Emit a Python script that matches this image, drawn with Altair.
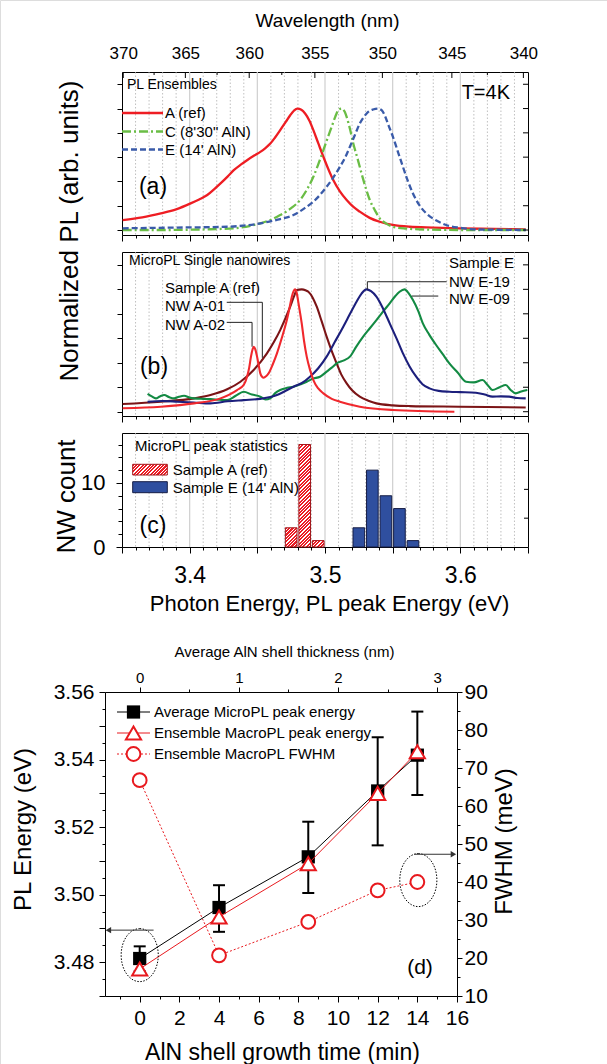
import altair as alt
import pandas as pd

FONT = "Liberation Sans"

# ---------------- panel (a): ensemble PL spectra ----------------
ensA_energy = [3.3505, 3.3650, 3.3787, 3.3900, 3.4007, 3.4070, 3.4130, 3.4180, 3.4228, 3.4280, 3.4326, 3.4380,
               3.4424, 3.4480, 3.4522, 3.4560, 3.4596, 3.4630, 3.4669, 3.4710, 3.4743, 3.4770, 3.4796, 3.4825,
               3.4853, 3.4885, 3.4914, 3.4950, 3.4988, 3.5025, 3.5061, 3.5110, 3.5160, 3.5210, 3.5257, 3.5330,
               3.5404, 3.5500, 3.5625, 3.5800, 3.5993, 3.6250, 3.6483]
ensA_pl = [0.082, 0.104, 0.137, 0.170, 0.219, 0.252, 0.288, 0.335, 0.384, 0.440, 0.493, 0.540,
           0.575, 0.615, 0.643, 0.675, 0.712, 0.760, 0.822, 0.890, 0.945, 0.982, 1.000, 0.990,
           0.959, 0.900, 0.822, 0.715, 0.603, 0.500, 0.411, 0.318, 0.247, 0.190, 0.151, 0.100,
           0.068, 0.042, 0.027, 0.020, 0.014, 0.009, 0.005]
ensC_energy = [3.3505, 3.3800, 3.4100, 3.4326, 3.4450, 3.4522, 3.4600, 3.4669, 3.4750, 3.4816, 3.4870, 3.4914,
               3.4950, 3.4988, 3.5020, 3.5049, 3.5075, 3.5098, 3.5123, 3.5145, 3.5160, 3.5185, 3.5209, 3.5240,
               3.5270, 3.5300, 3.5331, 3.5370, 3.5404, 3.5450, 3.5502, 3.5600, 3.5748, 3.6000, 3.6483]
ensC_pl = [0.000, 0.000, 0.005, 0.014, 0.035, 0.055, 0.085, 0.123, 0.180, 0.247, 0.340, 0.438,
           0.540, 0.657, 0.760, 0.849, 0.930, 0.986, 1.000, 0.975, 0.931, 0.830, 0.712, 0.590,
           0.466, 0.350, 0.247, 0.160, 0.096, 0.055, 0.027, 0.012, 0.004, 0.000, 0.000]
ensE_energy = [3.3505, 3.3900, 3.4277, 3.4522, 3.4650, 3.4767, 3.4850, 3.4914, 3.5012, 3.5060, 3.5110, 3.5150,
               3.5184, 3.5220, 3.5257, 3.5290, 3.5319, 3.5355, 3.5392, 3.5420, 3.5441, 3.5470, 3.5502, 3.5540,
               3.5576, 3.5610, 3.5650, 3.5700, 3.5748, 3.5820, 3.5895, 3.6000, 3.6115, 3.6300, 3.6483]
ensE_pl = [0.014, 0.020, 0.027, 0.055, 0.085, 0.123, 0.180, 0.233, 0.356, 0.430, 0.520, 0.600,
           0.685, 0.780, 0.877, 0.935, 0.972, 0.992, 1.000, 0.985, 0.945, 0.860, 0.767, 0.640,
           0.520, 0.410, 0.301, 0.200, 0.137, 0.080, 0.041, 0.018, 0.005, 0.002, 0.000]
ens_names = ["A (ref)", "C (8'30\" AlN)", "E (14' AlN)"]
ens_colors = ["#ee1d23", "#6abd45", "#3a5ba9"]
ens_dashes = [None, [9, 3, 2, 3], [6, 3]]

# ---------------- panel (b): single nanowire micro-PL ----------------
nwA01_energy = [3.3505, 3.3787, 3.4032, 3.4154, 3.4277, 3.4375, 3.4473, 3.4571, 3.4620, 3.4669, 3.4710, 3.4743,
                3.4770, 3.4792, 3.4828, 3.4860, 3.4877, 3.4910, 3.4939, 3.4975, 3.5012, 3.5050, 3.5086, 3.5120,
                3.5160, 3.5200, 3.5257, 3.5320, 3.5380, 3.5500, 3.5625, 3.5993, 3.6483]
nwA01_pl = [0.063, 0.082, 0.109, 0.136, 0.183, 0.245, 0.341, 0.477, 0.565, 0.667, 0.770, 0.858,
            0.940, 0.994, 1.000, 0.990, 0.980, 0.930, 0.858, 0.740, 0.613, 0.495, 0.395, 0.305,
            0.232, 0.175, 0.123, 0.090, 0.068, 0.052, 0.046, 0.041, 0.035]
nwA02_energy = [3.3505, 3.3787, 3.4032, 3.4228, 3.4350, 3.4400, 3.4424, 3.4440, 3.4453, 3.4465, 3.4473, 3.4485,
                3.4498, 3.4510, 3.4522, 3.4535, 3.4547, 3.4565, 3.4583, 3.4615, 3.4645, 3.4680, 3.4718, 3.4740,
                3.4755, 3.4768, 3.4779, 3.4790, 3.4805, 3.4828, 3.4845, 3.4865, 3.4890, 3.4914, 3.4950, 3.4988,
                3.5050, 3.5110, 3.5257, 3.5502, 3.5956]
nwA02_pl = [0.028, 0.041, 0.068, 0.109, 0.177, 0.220, 0.286, 0.360, 0.450, 0.510, 0.531, 0.510,
            0.450, 0.380, 0.313, 0.285, 0.278, 0.290, 0.313, 0.390, 0.477, 0.600, 0.749, 0.860,
            0.940, 0.985, 1.000, 0.975, 0.880, 0.722, 0.580, 0.450, 0.340, 0.259, 0.190, 0.150,
            0.105, 0.082, 0.041, 0.014, 0.000]
nwE19_energy = [3.3689, 3.3800, 3.3910, 3.4030, 3.4154, 3.4280, 3.4399, 3.4520, 3.4645, 3.4700, 3.4767, 3.4830,
                3.4889, 3.4950, 3.5012, 3.5070, 3.5135, 3.5185, 3.5233, 3.5270, 3.5306, 3.5340, 3.5380, 3.5430,
                3.5478, 3.5530, 3.5576, 3.5625, 3.5674, 3.5720, 3.5772, 3.5840, 3.5919, 3.6000, 3.6115, 3.6180,
                3.6238, 3.6300, 3.6360, 3.6420, 3.6483]
nwE19_pl = [0.082, 0.088, 0.082, 0.075, 0.068, 0.085, 0.095, 0.105, 0.136, 0.165, 0.204, 0.235,
            0.286, 0.355, 0.450, 0.565, 0.695, 0.800, 0.899, 0.965, 1.000, 0.985, 0.940, 0.840,
            0.722, 0.595, 0.477, 0.370, 0.286, 0.225, 0.191, 0.170, 0.163, 0.160, 0.155, 0.140,
            0.123, 0.125, 0.123, 0.112, 0.109]
nwE09_energy = [3.3689, 3.3720, 3.3750, 3.3780, 3.3812, 3.3850, 3.3885, 3.3920, 3.3959, 3.4000, 3.4032, 3.4100,
                3.4154, 3.4220, 3.4277, 3.4340, 3.4399, 3.4460, 3.4522, 3.4560, 3.4596, 3.4630, 3.4669, 3.4720,
                3.4767, 3.4820, 3.4865, 3.4910, 3.4963, 3.5012, 3.5050, 3.5086, 3.5140, 3.5184, 3.5230, 3.5282,
                3.5330, 3.5380, 3.5430, 3.5478, 3.5520, 3.5551, 3.5588, 3.5620, 3.5650, 3.5690, 3.5723, 3.5770,
                3.5821, 3.5870, 3.5919, 3.5980, 3.6042, 3.6100, 3.6164, 3.6200, 3.6238, 3.6290, 3.6336, 3.6370,
                3.6409, 3.6450, 3.6495]
nwE09_pl = [0.145, 0.125, 0.109, 0.125, 0.136, 0.118, 0.109, 0.122, 0.130, 0.115, 0.109, 0.105,
            0.103, 0.098, 0.095, 0.130, 0.163, 0.140, 0.123, 0.100, 0.109, 0.150, 0.177, 0.195,
            0.204, 0.225, 0.245, 0.270, 0.286, 0.327, 0.360, 0.395, 0.420, 0.450, 0.530, 0.613,
            0.680, 0.749, 0.820, 0.885, 0.945, 0.980, 1.000, 0.965, 0.912, 0.820, 0.722, 0.630,
            0.545, 0.470, 0.395, 0.320, 0.245, 0.240, 0.259, 0.220, 0.177, 0.200, 0.218, 0.180,
            0.150, 0.165, 0.177]
nw_colors = {"A01": "#7b1416", "A02": "#f0282d", "E19": "#1c1f7c", "E09": "#138a43"}
lead_A01_energy = [3.4274, 3.4537, 3.4537]
lead_A01_pl = [0.894, 0.894, 0.440]
lead_A02_energy = [3.4274, 3.4461, 3.4461]
lead_A02_pl = [0.730, 0.730, 0.531]
lead_E19_energy = [3.5899, 3.5313, 3.5313]
lead_E19_pl = [1.062, 1.062, 1.000]
lead_E09_energy = [3.5837, 3.5641]
lead_E09_pl = [0.945, 0.945]

# ---------------- panel (c): peak statistics ----------------
histA_center = [3.475, 3.485, 3.495]
histA_count = [3, 16, 1]
histE_center = [3.525, 3.535, 3.545, 3.555, 3.565]
histE_count = [3, 12, 8, 6, 1]
bin_halfwidth = 0.0043

# ---------------- panel (d) ----------------
growth_time = [0, 4, 8.5, 12, 14]
micro_peak = [3.4811, 3.4962, 3.5112, 3.5307, 3.5413]
micro_low = [3.4773, 3.4890, 3.5005, 3.5146, 3.5295]
micro_high = [3.4847, 3.5028, 3.5216, 3.5466, 3.5542]
macro_peak = [3.4780, 3.4934, 3.5092, 3.5300, 3.5423]
macro_fwhm = [66.8, 20.7, 29.5, 37.8, 40.0]
minutes_per_nm = 5

# ---------------- axis tick lists ----------------
energy_major_ticks = [3.35, 3.40, 3.45, 3.50, 3.55, 3.60, 3.65]
energy_minor_ticks = [3.36, 3.37, 3.38, 3.39, 3.41, 3.42, 3.43, 3.44, 3.46, 3.47, 3.48, 3.49, 3.51, 3.52,
                      3.53, 3.54, 3.56, 3.57, 3.58, 3.59, 3.61, 3.62, 3.63, 3.64]
energy_grid_major = [3.40, 3.45, 3.50, 3.55, 3.60]
HC = 1239.84
wavelength_major = [370, 365, 360, 355, 350, 345, 340]
wavelength_minor = [367.5, 362.5, 357.5, 352.5, 347.5, 342.5]
norm_ticks = [0, 0.2, 0.4, 0.6, 0.8, 1.0, 1.2]
count_major_ticks = [0, 10]
count_minor_ticks = [2, 4, 6, 8, 12, 14, 16]
count_right_ticks = [4.5, 9, 13.5]
time_major_ticks = [0, 2, 4, 6, 8, 10, 12, 14, 16]
time_minor_ticks = [-1, 1, 3, 5, 7, 9, 11, 13, 15]
thickness_major_nm = [0, 1, 2, 3]
thickness_minor_nm = [0.5, 1.5, 2.5]
pl_energy_major = [3.47, 3.48, 3.49, 3.50, 3.51, 3.52, 3.53, 3.54, 3.55, 3.56]
pl_energy_minor = [3.475, 3.485, 3.495, 3.505, 3.515, 3.525, 3.535, 3.545, 3.555]
fwhm_major = [10, 20, 30, 40, 50, 60, 70, 80, 90]
fwhm_minor = [15, 25, 35, 45, 55, 65, 75, 85]

# ---------------- page layout (pixels) ----------------
W, H = 607, 1064
EX0, EX1 = 122, 528                 # energy panels left/right
A_Y = (235, 72)
B_Y = (416, 252)
C_Y = (547, 433)
DX0, DX1, DY0, DY1 = 105, 457, 996, 692
C_PX_PER_COUNT = (C_Y[0] - C_Y[1]) / 17.8
PX_PER_EV = (EX1 - EX0) / 0.30

ONE = pd.DataFrame({"k": [0]})
AXB = dict(tickColor="black", labelColor="black", titleColor="black", labelFont=FONT, titleFont=FONT,
           titleFontWeight="normal", grid=False, labelFlush=False, labelOverlap=False, tickWidth=1,
           domainColor="black", domainWidth=1)


def ax(**kw):
    d = dict(AXB)
    d.setdefault("title", None)
    d.update(kw)
    return alt.Axis(**d)


def sc(domain, rng):
    return alt.Scale(domain=domain, range=list(rng), nice=False, zero=False)


def xE(field="E", axis=None):
    return alt.X(f"{field}:Q", scale=sc([3.35, 3.65], (EX0, EX1)), axis=axis)


def yPanel(field, yr, domain, axis=None):
    return alt.Y(f"{field}:Q", scale=sc(domain, yr), axis=axis)


def txt(s, x, y, size=15, align="left", color="black", angle=None):
    kw = dict(text=s, align=align, baseline="middle", fontSize=size, font=FONT, color=color)
    if angle is not None:
        kw["angle"] = angle
    return alt.Chart(ONE).mark_text(**kw).encode(x=alt.value(x), y=alt.value(y))


def hseg(x1, x2, y, color="black", width=1.0, dash=None):
    kw = dict(color=color, strokeWidth=width)
    if dash:
        kw["strokeDash"] = dash
    return alt.Chart(ONE).mark_rule(**kw).encode(x=alt.value(x1), x2=alt.value(x2), y=alt.value(y))


def hatch(w, h, period=3.4, frac=0.62, color="#ec1c24"):
    L = w + h
    k = L / (w * w + h * h)
    stops = []
    c = 0.0
    while c < L - 1e-9:
        a = round(c / L, 5)
        b = round(min((c + period * frac) / L, 1.0), 5)
        e = round(min((c + period) / L, 1.0), 5)
        stops += [alt.GradientStop(color=color, offset=a), alt.GradientStop(color=color, offset=b),
                  alt.GradientStop(color="white", offset=b), alt.GradientStop(color="white", offset=e)]
        c += period
    return alt.LinearGradient(gradient="linear", stops=stops, x1=0, y1=0, x2=round(w * k, 5), y2=round(h * k, 5))


def energy_grid(yr, bottom_offset, labels=False):
    minor = alt.Chart(pd.DataFrame({"E": energy_minor_ticks})).mark_rule(
        color="#b0b0b0", strokeWidth=0.8, strokeDash=[1.5, 2]).encode(
        x=xE(axis=ax(orient="bottom", offset=bottom_offset, values=energy_minor_ticks, tickSize=3,
                     labels=False, domain=False)),
        y=alt.value(yr[1]), y2=alt.value(yr[0]))
    if labels:
        extra = dict(labelExpr="abs(datum.value*10 - round(datum.value*10)) < 0.001 ? format(datum.value, '.1f') : ''",
                     labelFontSize=23, labelBaseline="middle", labelPadding=22,
                     title="Photon Energy, PL peak Energy (eV)", titleFontSize=22, titleX=329, titleY=56,
                     titleBaseline="middle", titleAlign="center")
    else:
        extra = dict(labels=False)
    major = alt.Chart(pd.DataFrame({"E": energy_grid_major})).mark_rule(
        color="#cfcfcf", strokeWidth=1.2).encode(
        x=xE(axis=ax(orient="bottom", offset=bottom_offset, values=energy_major_ticks, tickSize=6,
                     domain=True, **extra)),
        y=alt.value(yr[1]), y2=alt.value(yr[0]))
    return [minor, major]


def right_ticks(values, yr, domain, length=5):
    return alt.Chart(pd.DataFrame({"v": values})).mark_rule(color="black", strokeWidth=1).encode(
        y=yPanel("v", yr, domain, ax(orient="right", offset=-(W - EX1), ticks=False, labels=False, domain=True)),
        x=alt.value(EX1), x2=alt.value(EX1 - length))


layers = []

# ======================= panel (a) =======================
A_DOM = [-0.041, 1.301]
layers += energy_grid(A_Y, -(H - A_Y[0]))
ens_series = [(ensA_energy, ensA_pl), (ensC_energy, ensC_pl), (ensE_energy, ensE_pl)]
for i, (en, pl) in enumerate(ens_series):
    kw = dict(color=ens_colors[i], strokeWidth=2.3, interpolate="monotone")
    if ens_dashes[i]:
        kw["strokeDash"] = ens_dashes[i]
    yax = ax(orient="left", offset=-EX0, values=norm_ticks, labels=False, tickSize=5, domain=True) if i == 0 else None
    layers.append(alt.Chart(pd.DataFrame({"E": en, "v": pl})).mark_line(**kw).encode(
        x=xE(), y=yPanel("v", A_Y, A_DOM, yax)))
layers.append(alt.Chart(pd.DataFrame({"wl": wavelength_major})).transform_calculate(
    E=f"{HC}/datum.wl").mark_rule(color="black").encode(
    x=xE(axis=ax(orient="top", offset=-A_Y[1], values=[HC / w for w in wavelength_major], ticks=False, tickSize=0,
                 domain=True, labelExpr=f"format({HC}/datum.value, '.0f')", labelFontSize=17,
                 labelBaseline="middle", labelPadding=19, title="Wavelength (nm)", titleFontSize=19,
                 titleX=327, titleY=-52, titleBaseline="middle", titleAlign="center")),
    y=alt.value(A_Y[1]), y2=alt.value(A_Y[1] + 6)))
layers.append(alt.Chart(pd.DataFrame({"wl": wavelength_minor})).transform_calculate(
    E=f"{HC}/datum.wl").mark_rule(color="black").encode(
    x=xE(), y=alt.value(A_Y[1]), y2=alt.value(A_Y[1] + 3)))
layers.append(right_ticks(norm_ticks, A_Y, A_DOM))
layers += [
    txt("Normalized PL (arb. units)", 70, 231, 26, align="center", angle=270),
    txt("PL Ensembles", 127, 85, 14),
    hseg(EX0, 163, 113, ens_colors[0], 2.3), hseg(EX0, 163, 131.5, ens_colors[1], 2.3, [9, 3, 2, 3]),
    hseg(EX0, 163, 149.5, ens_colors[2], 2.3, [6, 3]),
    txt(ens_names[0], 165, 113, 15), txt(ens_names[1], 165, 131.5, 15), txt(ens_names[2], 165, 149.5, 15),
    txt("T=4K", 510, 93, 20, align="right"), txt("(a)", 153, 187, 23, align="center"),
]

# ======================= panel (b) =======================
B_DOM = [-0.035, 1.305]
layers += energy_grid(B_Y, -(H - B_Y[0]))
nw_series = [("A01", nwA01_energy, nwA01_pl), ("E09", nwE09_energy, nwE09_pl),
             ("E19", nwE19_energy, nwE19_pl), ("A02", nwA02_energy, nwA02_pl)]
for i, (name, en, pl) in enumerate(nw_series):
    yax = ax(orient="left", offset=-EX0, values=norm_ticks, labels=False, tickSize=5, domain=True) if i == 0 else None
    layers.append(alt.Chart(pd.DataFrame({"E": en, "v": pl})).mark_line(
        color=nw_colors[name], strokeWidth=2.1, interpolate="monotone").encode(
        x=xE(), y=yPanel("v", B_Y, B_DOM, yax)))
dfLead = pd.concat([
    pd.DataFrame({"E": lead_A01_energy, "v": lead_A01_pl, "g": "A01", "i": range(len(lead_A01_pl))}),
    pd.DataFrame({"E": lead_A02_energy, "v": lead_A02_pl, "g": "A02", "i": range(len(lead_A02_pl))}),
    pd.DataFrame({"E": lead_E19_energy, "v": lead_E19_pl, "g": "E19", "i": range(len(lead_E19_pl))}),
    pd.DataFrame({"E": lead_E09_energy, "v": lead_E09_pl, "g": "E09", "i": range(len(lead_E09_pl))}),
])
layers.append(alt.Chart(dfLead).mark_line(color="#222222", strokeWidth=1).encode(
    x=xE(axis=ax(orient="top", offset=-B_Y[1], ticks=False, labels=False, domain=True, values=[3.5])),
    y=yPanel("v", B_Y, B_DOM), detail="g:N", order="i:Q"))
layers.append(right_ticks(norm_ticks, B_Y, B_DOM))
layers += [
    txt("MicroPL Single nanowires", 129, 261, 14),
    txt("Sample A (ref)", 165, 288, 15), txt("NW A-01", 165, 306, 15), txt("NW A-02", 165, 324.5, 15),
    txt("Sample E", 449, 263, 15), txt("NW E-19", 449, 281.5, 15), txt("NW E-09", 449, 298.5, 15),
    txt("(b)", 154, 367, 23, align="center"),
]

# ======================= panel (c) =======================
C_DOM = [0, 17.8]
layers += energy_grid(C_Y, -(H - C_Y[0]), labels=True)
bar_w_px = 2 * bin_halfwidth * PX_PER_EV
layers.append(alt.Chart(pd.DataFrame({"c": histE_center, "n": histE_count})).transform_calculate(
    x0=f"datum.c - {bin_halfwidth}", x1=f"datum.c + {bin_halfwidth}", z="0").mark_rect(
    fill="#2f4f9f", stroke="#151d45", strokeWidth=1).encode(
    x=xE("x0"), x2="x1:Q",
    y=yPanel("n", C_Y, C_DOM, ax(orient="left", offset=-EX0, values=count_major_ticks, tickSize=6, domain=True,
                                 labelFontSize=22, labelPadding=11,
                                 title="NW count", titleFontSize=26, titleAngle=270, titleX=66 - EX0, titleY=496,
                                 titleBaseline="middle", titleAlign="center")),
    y2="z:Q"))
for j, (cen, cnt) in enumerate(zip(histA_center, histA_count)):
    xax = ax(orient="top", offset=-C_Y[1], ticks=False, labels=False, domain=True, values=[3.5]) if j == 0 else None
    yax = ax(orient="left", offset=-EX0, values=count_minor_ticks, tickSize=4, labels=False,
             domain=False) if j == 0 else None
    layers.append(alt.Chart(pd.DataFrame({"c": [cen], "n": [cnt]})).transform_calculate(
        x0=f"datum.c - {bin_halfwidth}", x1=f"datum.c + {bin_halfwidth}", z="0").mark_rect(
        fill=hatch(bar_w_px, cnt * C_PX_PER_COUNT), stroke="#a3161b", strokeWidth=1).encode(
        x=xE("x0", xax), x2="x1:Q", y=yPanel("n", C_Y, C_DOM, yax), y2="z:Q"))
layers.append(right_ticks(count_right_ticks, C_Y, C_DOM, 4))
layers += [
    txt("MicroPL peak statistics", 135, 446, 15),
    alt.Chart(ONE).mark_rect(fill=hatch(34.6, 10.7), stroke="#a3161b", strokeWidth=1).encode(
        x=alt.value(132.7), x2=alt.value(167.3), y=alt.value(464.3), y2=alt.value(475)),
    alt.Chart(ONE).mark_rect(fill="#2f4f9f", stroke="#151d45", strokeWidth=1).encode(
        x=alt.value(132.7), x2=alt.value(167.3), y=alt.value(481.7), y2=alt.value(492.7)),
    txt("Sample A  (ref)", 172.7, 470, 15), txt("Sample E (14' AlN)", 172.7, 487.5, 15),
    txt("(c)", 153, 526, 23, align="center"),
]

# ======================= panel (d) =======================
RED = "#e8191e"


def xT(field="t", axis=None):
    return alt.X(f"{field}:Q", scale=sc([-1.75, 16], (DX0, DX1)), axis=axis)


def yEn(field, axis=None):
    return alt.Y(f"{field}:Q", scale=sc([3.47, 3.56], (DY0, DY1)), axis=axis)


def yFw(field, axis=None):
    return alt.Y(f"{field}:Q", scale=sc([10, 90], (DY0, DY1)), axis=axis)


dfD = pd.DataFrame({"t": growth_time, "peak": micro_peak, "lo": micro_low, "hi": micro_high,
                    "macro": macro_peak, "fwhm": macro_fwhm})
baseD = alt.Chart(dfD)
ax_top_major = ax(orient="top", offset=-DY1, values=[v * minutes_per_nm for v in thickness_major_nm],
                  labelExpr=f"format(datum.value/{minutes_per_nm}, 'd')", tickSize=5, domain=True,
                  labelFontSize=15, labelBaseline="middle", labelPadding=10,
                  title="Average AlN shell thickness (nm)", titleFontSize=15, titleX=284, titleY=-41,
                  titleBaseline="middle", titleAlign="center")
ax_top_minor = ax(orient="top", offset=-DY1, values=[v * minutes_per_nm for v in thickness_minor_nm],
                  tickSize=3, labels=False, domain=False)
ax_right_major = ax(orient="right", offset=-(W - DX1), values=fwhm_major, tickSize=5, domain=True,
                    labelFontSize=21, labelPadding=2,
                    title="FWHM (meV)", titleFontSize=24, titleAngle=270, titleX=47, titleY=841,
                    titleBaseline="middle", titleAlign="center")
ax_right_minor = ax(orient="right", offset=-(W - DX1), values=fwhm_minor, tickSize=3, labels=False, domain=False)
ax_bottom_major = ax(orient="bottom", offset=-(H - DY0), values=time_major_ticks, tickSize=6, domain=True,
                     labelFontSize=21, labelBaseline="middle", labelPadding=16,
                     title="AlN shell growth time (min)", titleFontSize=23, titleX=282, titleY=56,
                     titleBaseline="middle", titleAlign="center")
ax_bottom_minor = ax(orient="bottom", offset=-(H - DY0), values=time_minor_ticks, tickSize=3, labels=False,
                     domain=False)
ax_left_major = ax(orient="left", offset=-DX0, values=pl_energy_major, tickSize=6, domain=True,
                   labelExpr="abs(datum.value*50 - round(datum.value*50)) < 0.001 ? format(datum.value, '.2f') : ''",
                   labelFontSize=21, labelPadding=5,
                   title="PL Energy (eV)", titleFontSize=24, titleAngle=270, titleX=23 - DX0, titleY=829,
                   titleBaseline="middle", titleAlign="center")
ax_left_minor = ax(orient="left", offset=-DX0, values=pl_energy_minor, tickSize=3, labels=False, domain=False)

layers += [
    baseD.mark_line(color=RED, strokeWidth=1, strokeDash=[2, 2]).encode(
        x=xT(axis=ax_top_major), y=yFw("fwhm", ax_right_major)),
    baseD.mark_point(shape="circle", filled=True, fill="white", stroke=RED, strokeWidth=2, size=190,
                     opacity=1).encode(x=xT(axis=ax_top_minor), y=yFw("fwhm", ax_right_minor)),
    baseD.mark_line(color="black", strokeWidth=1).encode(
        x=xT(axis=ax_bottom_major), y=yEn("peak", ax_left_major)),
    baseD.mark_rule(color="black", strokeWidth=2).encode(
        x=xT(axis=ax_bottom_minor), y=yEn("lo", ax_left_minor), y2="hi:Q"),
    alt.Chart(dfD).transform_fold(["lo", "hi"], as_=["k", "val"]).mark_point(
        shape="stroke", size=144, strokeWidth=2, color="black", opacity=1).encode(x=xT(), y=yEn("val")),
    baseD.mark_point(shape="square", filled=True, color="black", size=175, opacity=1).encode(
        x=xT(), y=yEn("peak")),
    baseD.mark_line(color=RED, strokeWidth=1).encode(x=xT(), y=yEn("macro")),
    baseD.mark_point(shape="triangle-up", filled=True, fill="white", stroke=RED, strokeWidth=2, size=230,
                     opacity=1).encode(x=xT(), y=yEn("macro")),
]
ELLIPSE = "M0,-1A0.7,1,0,1,1,0,1A0.7,1,0,1,1,0,-1Z"
ann_ellipse_energy = pd.DataFrame({"t": [0.0], "e": [3.4821]})
ann_ellipse_fwhm = pd.DataFrame({"t": [14.05], "f": [40.5]})
layers += [
    alt.Chart(ann_ellipse_energy).mark_point(shape=ELLIPSE, size=2809, filled=False, color="black", strokeWidth=1,
                                             strokeDash=[1.5, 1.5], opacity=1).encode(x=xT(), y=yEn("e")),
    alt.Chart(ann_ellipse_fwhm).mark_point(shape=ELLIPSE, size=2809, filled=False, color="black", strokeWidth=1,
                                           strokeDash=[1.5, 1.5], opacity=1).encode(x=xT(), y=yFw("f")),
    alt.Chart(pd.DataFrame({"t": [0.7, -1.5], "e": [3.4895, 3.4895]})).mark_line(
        color="#333333", strokeWidth=1).encode(x=xT(), y=yEn("e")),
    alt.Chart(pd.DataFrame({"t": [-1.58], "e": [3.4895]})).mark_point(
        shape="triangle-left", filled=True, color="#333333", size=40, opacity=1).encode(x=xT(), y=yEn("e")),
    alt.Chart(pd.DataFrame({"t": [13.85, 15.7], "f": [47.3, 47.3]})).mark_line(
        color="#333333", strokeWidth=1).encode(x=xT(), y=yFw("f")),
    alt.Chart(pd.DataFrame({"t": [15.82], "f": [47.3]})).mark_point(
        shape="triangle-right", filled=True, color="#333333", size=40, opacity=1).encode(x=xT(), y=yFw("f")),
]


def legend_marker(y, **kw):
    return alt.Chart(ONE).mark_point(opacity=1, **kw).encode(x=alt.value(133.5), y=alt.value(y))


legend_names = ["Average MicroPL peak energy", "Ensemble MacroPL peak energy", "Ensemble MacroPL FWHM"]
layers += [
    hseg(117, 150, 712, "black", 1), legend_marker(712, shape="square", filled=True, color="black", size=175),
    hseg(117, 150, 733, RED, 1), legend_marker(733, shape="triangle-up", filled=True, fill="white", stroke=RED,
                                               strokeWidth=2, size=230),
    hseg(117, 150, 754, RED, 1, [2, 2]), legend_marker(754, shape="circle", filled=True, fill="white", stroke=RED,
                                                      strokeWidth=2, size=190),
    txt(legend_names[0], 154, 712, 15), txt(legend_names[1], 154, 733, 15), txt(legend_names[2], 154, 754, 15),
    txt("(d)", 420, 968, 21, align="center"),
]

chart = alt.layer(*layers).resolve_scale(x="independent", y="independent").resolve_axis(
    x="independent", y="independent").properties(
    width=W, height=H, padding=0, autosize=alt.AutoSizeParams(type="none")).configure_view(
    stroke=None).configure(font=FONT)

chart.save("out.html", embed_options={"renderer": "svg", "actions": False})
